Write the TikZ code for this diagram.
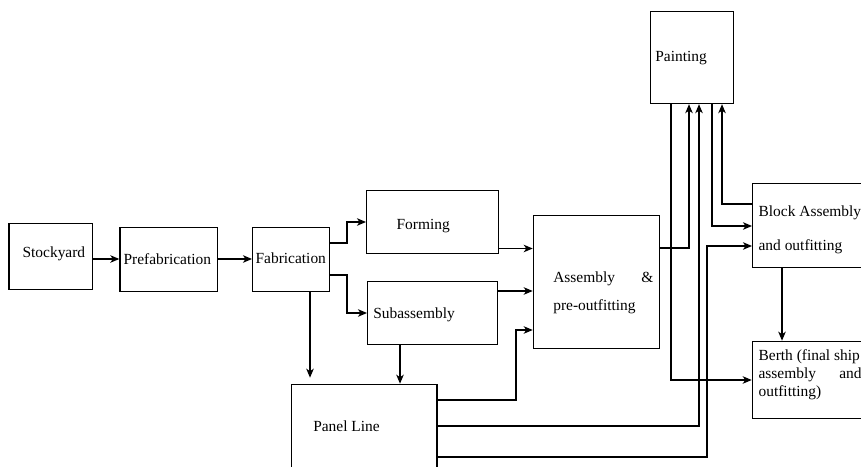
\documentclass[tikz,border=0pt]{standalone}
\usepackage{fontspec}
\setmainfont{Liberation Serif}
\usetikzlibrary{arrows.meta}
\begin{document}
\begin{tikzpicture}[x=1bp,y=-1bp, line width=1.2bp,
  box/.style={draw, inner sep=0, anchor=north west},
  lbl/.style={inner sep=0, anchor=base west, font=\fontsize{15.5}{18}\selectfont},
  arr/.style={-{Stealth[length=9bp,width=7.5bp,inset=2.5bp]}}]
\useasboundingbox (0,0) rectangle (861,467);
\clip (0,0) rectangle (861,467);
% boxes
\node[box, minimum width=83.4bp, minimum height=65.4bp] (st) at (8.3,223.3) {};
\node[box, minimum width=97.4bp, minimum height=63.4bp] (pf) at (119.3,227.3) {};
\node[box, minimum width=77bp, minimum height=63.7bp] (fb) at (252,227) {};
\node[box, minimum width=132bp, minimum height=63bp] (fo) at (366,190) {};
\node[box, minimum width=130bp, minimum height=63bp] (sb) at (367,281) {};
\node[box, minimum width=145.6bp, minimum height=100bp] (pl) at (290.7,383.7) {};
\node[box, minimum width=126.3bp, minimum height=133.3bp] (as) at (532.7,214.7) {};
\node[box, minimum width=83bp, minimum height=92bp] (pa) at (650,11) {};
\node[box, minimum width=130bp, minimum height=84bp] (ba) at (752,183.3) {};
\node[box, minimum width=130bp, minimum height=77.3bp] (be) at (751.7,340.7) {};
% labels
\node[lbl] (tst) at (22,258) {Stockyard};
\node[lbl] (tpf) at (123,264.5) {Prefabrication};
\node[lbl] (tfb) at (255,264) {Fabrication};
\node[lbl] (tfo) at (396,230) {Forming};
\node[lbl] (tsb) at (372.7,319) {Subassembly};
\node[lbl] (tpl) at (312.7,431) {Panel Line};
\node[lbl] (tpa) at (654.7,61.5) {Painting};
\node[lbl] (tas1) at (552.7,283) {\makebox[100bp][l]{Assembly\hfill\&}};
\node[lbl] (tas2) at (552.7,311) {pre-outfitting};
\node[lbl] (tba1) at (758,217) {Block Assembly};
\node[lbl] (tba2) at (758,251) {and outfitting};
\node[lbl] (tbe1) at (758,361) {Berth (final ship};
\node[lbl] (tbe2) at (758,378.7) {\makebox[103bp][l]{assembly\hfill and}};
\node[lbl] (tbe3) at (758,396) {outfitting)};
% connectors
\draw[arr] (st.east |- 0,259) -- (pf.west |- 0,259);
\draw[arr] (pf.east |- 0,259) -- (fb.west |- 0,259);
\draw[arr] (fb.east |- 0,243) -| (347,222) -- (fo.west |- 0,222);
\draw[arr] (fb.east |- 0,275) -| (347,313) -- (sb.west |- 0,313);
\draw[arr, shorten >=6bp] (fb.south -| 310,0) -- (pl.north -| 310,0);
\draw[arr] (sb.south -| 400,0) -- (pl.north -| 400,0);
\draw[arr] (fo.east |- 0,248.5) -- (as.west |- 0,248.5);
\draw[arr] (sb.east |- 0,291) -- (as.west |- 0,291);
\draw[arr] (pl.east |- 0,400) -| (516,330) -- (as.west |- 0,330);
\draw[arr] (as.east |- 0,248) -| (pa.south -| 689,0);
\draw[arr] (pl.east |- 0,426) -| (pa.south -| 699,0);
\draw[arr] (ba.west |- 0,204) -| (pa.south -| 722,0);
\draw[arr] (pa.south -| 712,0) |- (ba.west |- 0,226);
\draw[arr] (pl.east |- 0,457) -| (707,246) -- (ba.west |- 0,246);
\draw[arr] (pa.south -| 671,0) |- (be.west |- 0,380);
\draw[arr] (ba.south -| 782,0) -- (be.north -| 782,0);
\end{tikzpicture}
\end{document}
